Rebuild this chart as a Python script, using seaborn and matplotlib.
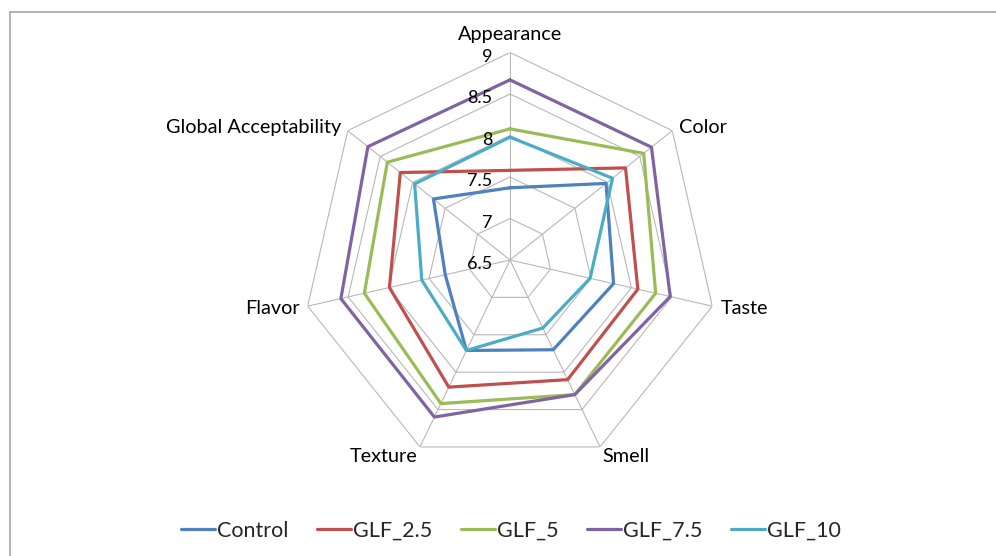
"""Radar chart of sensory scores for control and GLF-enriched samples."""

import numpy as np
import pandas as pd
import matplotlib
matplotlib.use("Agg")
import matplotlib.pyplot as plt
from matplotlib.lines import Line2D
import seaborn as sns

attributes = ["Appearance", "Color", "Taste", "Smell", "Texture", "Flavor",
              "Global Acceptability"]
series_names = ["Control", "GLF_2.5", "GLF_5", "GLF_7.5", "GLF_10"]

control = [7.37, 7.98, 7.78, 7.70, 7.71, 7.30, 7.68]
glf_2_5 = [7.58, 8.28, 8.08, 8.10, 8.20, 7.99, 8.19]
glf_5 = [8.08, 8.56, 8.30, 8.30, 8.42, 8.30, 8.39]
glf_7_5 = [8.67, 8.68, 8.48, 8.30, 8.60, 8.59, 8.69]
glf_10 = [7.98, 8.08, 7.49, 7.41, 7.71, 7.59, 7.97]

ring_values = [7, 7.5, 8, 8.5, 9]
tick_labels = ["6.5", "7", "7.5", "8", "8.5", "9"]
r_min, r_max = 6.5, 9

colors = ["#4F81BD", "#C0504D", "#9BBB59", "#8064A2", "#4BACC6"]

sns.set_theme(style="white")
plt.rcParams["font.family"] = ["Lato", "DejaVu Sans"]

n = len(attributes)
theta = np.linspace(0, 2 * np.pi, n, endpoint=False)
theta_closed = np.append(theta, 2 * np.pi)

rows = []
for name, vals in zip(series_names, [control, glf_2_5, glf_5, glf_7_5, glf_10]):
    closed = list(vals) + [vals[0]]
    for t, v in zip(theta_closed, closed):
        rows.append({"theta": t, "score": v, "series": name})
df = pd.DataFrame(rows)

W, H = 996, 556
fig = plt.figure(figsize=(W / 100, H / 100), dpi=100)
cx, cy, R = 510, 260, 207.5
ax = fig.add_axes([(cx - R) / W, (H - cy - R) / H, 2 * R / W, 2 * R / H],
                  projection="polar")
ax.set_theta_zero_location("N")
ax.set_theta_direction(-1)
ax.set_ylim(r_min, r_max)
ax.grid(False)
ax.spines["polar"].set_visible(False)
ax.set_xticks([])
ax.set_yticks([])
ax.patch.set_alpha(0)

# heptagon grid and spokes
grid_kw = dict(color="#B8B8B8", lw=0.8, zorder=1)
for rv in ring_values:
    ax.plot(theta_closed, [rv] * (n + 1), **grid_kw)
for t in theta:
    ax.plot([t, t], [r_min, r_max], **grid_kw)

sns.lineplot(data=df, x="theta", y="score", hue="series", hue_order=series_names,
             palette=colors, sort=False, estimator=None, lw=2.3, ax=ax,
             legend=False, zorder=3)
ax.set_xlabel("")
ax.set_ylabel("")

# radial value labels along the top spoke
for lab in tick_labels:
    ax.annotate(lab, xy=(0, float(lab)), xytext=(-12.5, -3), textcoords="offset points",
                ha="right", va="center", fontsize=13, color="#000000",
                annotation_clip=False)

# category labels
label_pos = [
    ((0, 7), "center", "bottom"),
    ((5, 2), "left", "center"),
    ((6, -2), "left", "center"),
    ((2, -1), "left", "top"),
    ((-2, -1), "right", "top"),
    ((-6, -2), "right", "center"),
    ((-5, 2), "right", "center"),
]
for t, lab, (off, ha, va) in zip(theta, attributes, label_pos):
    ax.annotate(lab, xy=(t, r_max), xytext=off, textcoords="offset points",
                ha=ha, va=va, fontsize=14.3, color="#000000", annotation_clip=False)

handles = [Line2D([], [], color=c, lw=2.3) for c in colors]
fig.legend(handles, series_names, loc="center", bbox_to_anchor=(0.513, 1 - 531 / H),
           ncol=5, frameon=False, fontsize=15.5, handlelength=1.6,
           handletextpad=0.1, columnspacing=1.3)

# chart-area border (left and top edges visible)
fig.add_artist(Line2D([10 / W, 10 / W], [0, 1 - 12 / H], color="#A6A6A6", lw=1.2))
fig.add_artist(Line2D([10 / W, 1], [1 - 12 / H, 1 - 12 / H], color="#A6A6A6", lw=1.2))

fig.savefig("out.png", dpi=100, facecolor="white")
